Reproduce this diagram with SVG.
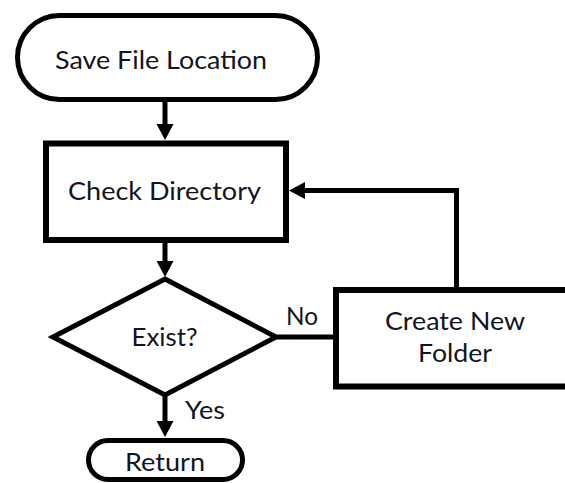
<svg xmlns="http://www.w3.org/2000/svg" width="565" height="483" viewBox="0 0 565 483">
<style>
.shape{fill:#fff;stroke:#000;stroke-linejoin:miter}
.pill{stroke-width:5}
.box{stroke-width:6}
.dia{stroke-width:5}
.conn{fill:none;stroke:#000;stroke-width:5}
.lbl{font-family:Lato,"Liberation Sans",sans-serif;font-size:25px;fill:#141420}
</style>
<defs>
<marker id="ah" markerUnits="userSpaceOnUse" markerWidth="17" markerHeight="18" refX="0" refY="9" orient="auto" overflow="visible">
<path d="M0,0.5 L16,9 L0,17.5 z" fill="#000"/>
</marker>
</defs>
<rect width="565" height="483" fill="#fff"/>
<g id="connectors">
<line class="conn" x1="165" y1="101" x2="165" y2="124" marker-end="url(#ah)"/>
<line class="conn" x1="165" y1="242" x2="165" y2="261" marker-end="url(#ah)"/>
<line class="conn" x1="165" y1="396" x2="165" y2="421" marker-end="url(#ah)"/>
<line class="conn" x1="277" y1="337" x2="334" y2="337"/>
<path class="conn" d="M456.5,288 V190.5 H305" marker-end="url(#ah)"/>
<text class="lbl" x="286" y="325" textLength="32" lengthAdjust="spacingAndGlyphs">No</text>
<text class="lbl" x="185" y="419" textLength="40" lengthAdjust="spacingAndGlyphs">Yes</text>
</g>
<g id="start">
<rect class="shape pill" x="17.5" y="15.5" width="300" height="84" rx="42" ry="42"/>
<text class="lbl" x="55" y="68.5" textLength="212" lengthAdjust="spacingAndGlyphs">Save File Location</text>
</g>
<g id="check">
<rect class="shape box" x="46" y="143.5" width="240" height="96.5"/>
<text class="lbl" x="68" y="199.5" textLength="193" lengthAdjust="spacingAndGlyphs">Check Directory</text>
</g>
<g id="exist">
<polygon class="shape dia" points="165,279 276,337 165,395 53,337"/>
<text class="lbl" x="131.5" y="346" textLength="66" lengthAdjust="spacingAndGlyphs">Exist?</text>
</g>
<g id="create">
<rect class="shape box" x="336" y="290" width="240" height="96.5"/>
<text class="lbl" x="385" y="330" textLength="140" lengthAdjust="spacingAndGlyphs">Create New</text>
<text class="lbl" x="418" y="361.5" textLength="74" lengthAdjust="spacingAndGlyphs">Folder</text>
</g>
<g id="return">
<rect class="shape pill" x="88.5" y="440.5" width="154" height="39" rx="19.5" ry="19.5"/>
<text class="lbl" x="125" y="470.5" textLength="80" lengthAdjust="spacingAndGlyphs">Return</text>
</g>
</svg>
